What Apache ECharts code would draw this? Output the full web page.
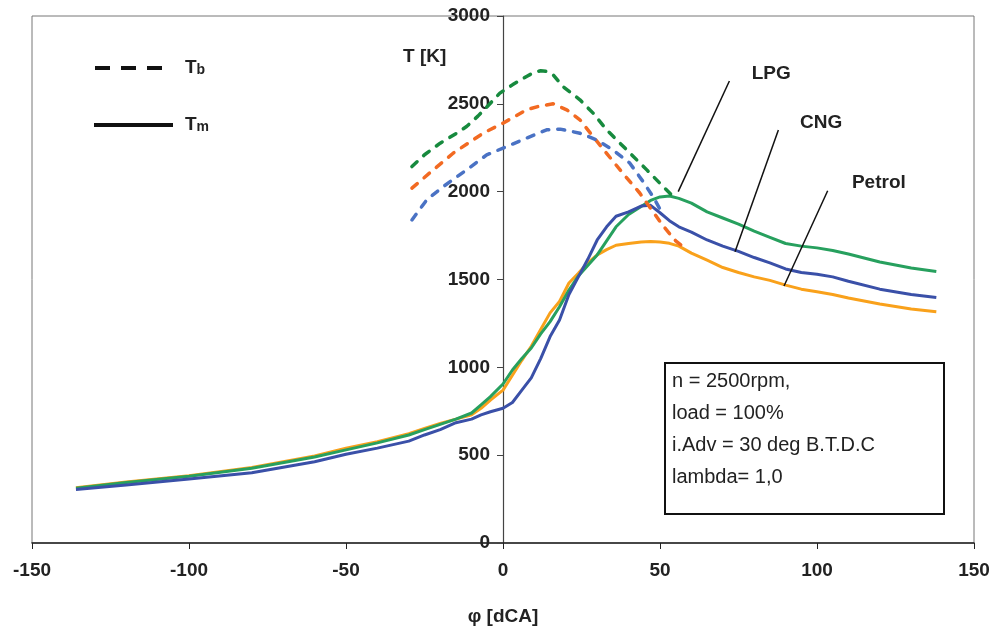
<!DOCTYPE html>
<html>
<head>
<meta charset="utf-8">
<script src="https://cdn.jsdelivr.net/npm/echarts@6/dist/echarts.min.js"></script>
<style>
html,body{margin:0;padding:0;background:#fff;}
#chart{width:997px;height:633px;}
</style>
</head>
<body>
<div id="chart"></div>
<script>
// crank angle for the mean temperature curves (Tm)
const phiTm = [-136,-120,-100,-80,-60,-50,-40,-30,-25,-20,-15,-10,-7,-4,0,3,6,9,12,15,18,21,24,27,30,33,36,40,44,47,50,53,56,60,65,70,75,80,85,90,95,100,105,110,120,130,138];
const tmPetrol = [315,347,383,430,495,539,577,622,652,680,705,730,767,814,870,955,1040,1120,1215,1310,1375,1480,1535,1595,1640,1670,1695,1705,1714,1716,1713,1706,1690,1650,1610,1568,1540,1515,1495,1468,1445,1430,1415,1395,1360,1332,1317];
const tmLPG    = [312,344,380,425,490,530,570,615,645,675,705,740,786,833,905,985,1050,1110,1190,1260,1345,1440,1520,1580,1640,1720,1800,1870,1915,1950,1970,1975,1962,1935,1885,1850,1815,1775,1740,1705,1690,1680,1665,1645,1600,1565,1545];
const tmCNG    = [305,330,364,400,463,505,540,580,615,645,685,705,729,747,767,800,870,940,1050,1175,1270,1415,1515,1615,1725,1800,1860,1885,1918,1922,1880,1835,1800,1770,1725,1690,1660,1625,1595,1560,1540,1530,1515,1490,1445,1415,1397];

// burned-zone temperature curves (Tb)
const phiTbLPG = [-29,-25,-20,-15,-11.6,-8,-5,-1,3,7.5,10,12,14,16,19,24.5,28.7,33,39.4,45.8,51,54.3];
const tbLPG    = [2143,2210,2276,2330,2371,2430,2485,2561,2608,2656,2680,2688,2685,2665,2599,2523,2447,2352,2238,2124,2029,1971];
const phiTbPetrol = [-29,-22.2,-15.8,-6.3,0,7.5,11.8,16,20.3,24.5,28.7,33,38.2,43.6,46.8,51,55,58];
const tbPetrol    = [2020,2124,2220,2333,2390,2466,2488,2500,2466,2409,2314,2218,2104,1991,1910,1805,1720,1677];
const phiTbCNG = [-29,-24.3,-19,-11.6,-5.2,1.2,7.5,13.9,18.2,24.5,29.8,35,40.4,44.5,47.8,50];
const tbCNG    = [1839,1953,2029,2124,2209,2257,2305,2352,2356,2333,2295,2238,2162,2060,1971,1900];

const xTicks = [-150,-100,-50,0,50,100,150];
const yTicks = [0,500,1000,1500,2000,2500,3000];

// annotation labels and leader lines (data coordinates)
const annoNames = ['LPG','CNG','Petrol'];
const annoLabelPos = [[85.4,2674],[101.3,2395],[119.7,2051]];
const annoLineFrom = [[72.1,2630],[87.7,2351],[103.4,2005]];
const annoLineTo   = [[55.8,2000],[73.9,1658],[89.5,1463]];

const infoLines = ['n = 2500rpm,','load = 100%','i.Adv = 30 deg B.T.D.C','lambda= 1,0'];

const FONT = 'Arial, "Liberation Sans", Helvetica, sans-serif';
function pairs(xs, ys){ return xs.map((x,i)=>[x, ys[i]]); }

const colSolid = {Petrol:'#f9a11b', LPG:'#27a05e', CNG:'#3a50a8'};
const colDash  = {Petrol:'#f26a22', LPG:'#178a3e', CNG:'#4a72c4'};

function solid(name, ys){
  return {type:'line', name:name+' Tm', data:pairs(phiTm, ys), showSymbol:false, symbol:'none',
    lineStyle:{color:colSolid[name], width:3, join:'round'}, itemStyle:{color:colSolid[name]}, z:2};
}
function dashed(name, xs, ys){
  return {type:'line', name:name+' Tb', data:pairs(xs, ys), showSymbol:false, symbol:'none',
    lineStyle:{color:colDash[name], width:3.5, type:[7,9], cap:'round', join:'round'}, itemStyle:{color:colDash[name]}, z:3};
}

const series = [
  solid('Petrol', tmPetrol),
  solid('LPG', tmLPG),
  solid('CNG', tmCNG),
  dashed('Petrol', phiTbPetrol, tbPetrol),
  dashed('CNG', phiTbCNG, tbCNG),
  dashed('LPG', phiTbLPG, tbLPG),
  {type:'line', name:'annotations', data:[], silent:true,
    markLine:{silent:true, symbol:['none','none'], animation:false,
      lineStyle:{color:'#111', width:1.5, type:'solid'}, label:{show:false},
      data: annoLineFrom.map((p,i)=>[{coord:p},{coord:annoLineTo[i]}])},
    markPoint:{silent:true, symbol:'circle', symbolSize:1, itemStyle:{color:'rgba(0,0,0,0)'}, animation:false,
      data: annoNames.map((n,i)=>({coord:annoLabelPos[i], name:n,
        label:{show:true, position:'inside', formatter:n, color:'#222', fontFamily:FONT, fontSize:19, fontWeight:'bold'}}))}
  }
];

const GRID = {left:32, right:23, top:16, bottom:90};
const plotW = 997 - GRID.left - GRID.right;
// y axis sits at phi = 0
const yAxisOffset = -plotW * (0 - xTicks[0]) / (xTicks[xTicks.length-1] - xTicks[0]);

const chart = echarts.init(document.getElementById('chart'), null, {renderer:'canvas'});
chart.setOption({
  animation:false,
  backgroundColor:'#fff',
  grid:{left:GRID.left, right:GRID.right, top:GRID.top, bottom:GRID.bottom, containLabel:false, outerBoundsMode:'none',
    show:true, borderColor:'#777', borderWidth:1, backgroundColor:'transparent'},
  xAxis:{type:'value', min:xTicks[0], max:xTicks[xTicks.length-1], interval:50,
    name:'φ [dCA]', nameLocation:'middle', nameGap:64,
    nameTextStyle:{fontFamily:FONT, fontSize:19, fontWeight:'bold', color:'#222'},
    axisLine:{show:true, onZero:false, lineStyle:{color:'#222', width:1.5}},
    axisTick:{show:true, inside:false, length:6, lineStyle:{color:'#222'}},
    axisLabel:{margin:18, fontFamily:FONT, fontSize:19, fontWeight:'bold', color:'#222', formatter:v=>String(v)},
    splitLine:{show:false}},
  yAxis:{type:'value', position:'left', offset:yAxisOffset, min:yTicks[0], max:yTicks[yTicks.length-1], interval:500,
    axisLine:{show:true, onZero:false, lineStyle:{color:'#444', width:1.2}},
    axisTick:{show:true, inside:false, length:6, lineStyle:{color:'#444'}},
    axisLabel:{margin:13, fontFamily:FONT, fontSize:19, fontWeight:'bold', color:'#222', formatter:v=>String(v)},
    splitLine:{show:false}},
  series: series,
  graphic:[
    {type:'text', left:403, top:47, style:{text:'T [K]', fill:'#222', font:'bold 19px '+FONT}},
    // legend
    {type:'line', shape:{x1:95, y1:68, x2:164, y2:68}, style:{stroke:'#111', lineWidth:4, lineDash:[15,11]}},
    {type:'text', left:185, top:58, style:{text:'{t|T}{s|b}', rich:{t:{font:'bold 19px '+FONT, fill:'#222'}, s:{font:'bold 14px '+FONT, fill:'#222', padding:[6,0,0,0]}}}},
    {type:'line', shape:{x1:94, y1:125, x2:173, y2:125}, style:{stroke:'#111', lineWidth:4}},
    {type:'text', left:185, top:115, style:{text:'{t|T}{s|m}', rich:{t:{font:'bold 19px '+FONT, fill:'#222'}, s:{font:'bold 14px '+FONT, fill:'#222', padding:[6,0,0,0]}}}},
    // info box
    {type:'rect', shape:{x:665, y:363, width:279, height:151}, style:{fill:'#fff', stroke:'#111', lineWidth:2}, z:10},
    {type:'text', x:672, y:365, z:11, style:{text:infoLines.join('\n'), fill:'#222', font:'20px '+FONT, lineHeight:32, verticalAlign:'top'}}
  ]
});
</script>
</body>
</html>
